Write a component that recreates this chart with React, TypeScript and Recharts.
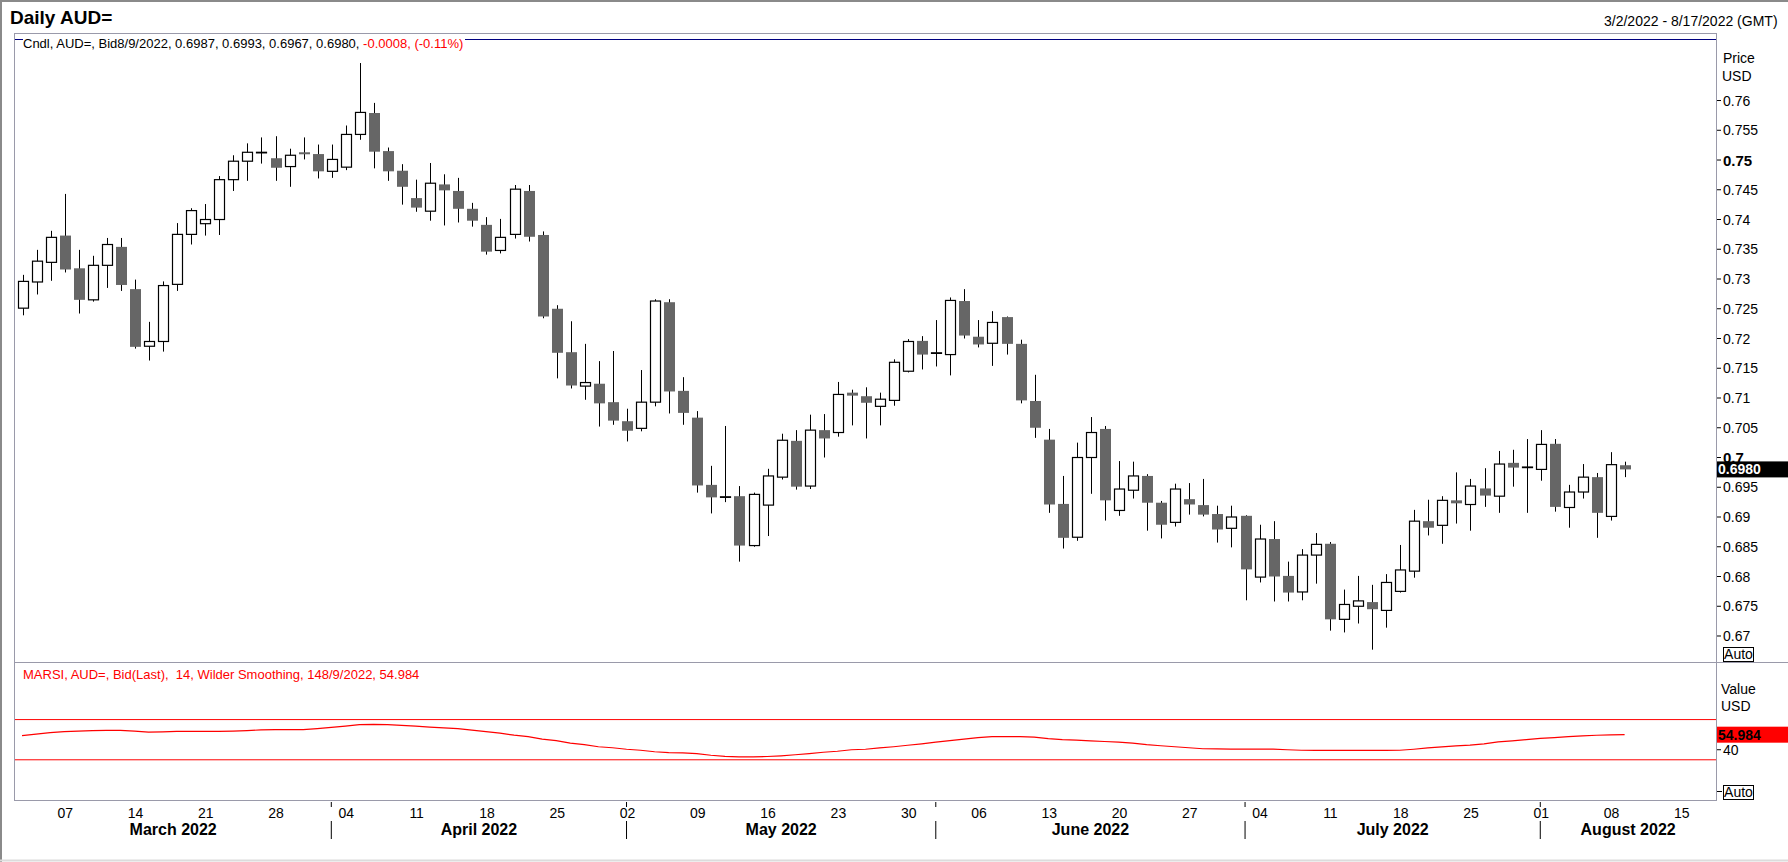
import React from "react";
import { ComposedChart, Bar, Line, XAxis, YAxis, ReferenceLine } from "recharts";

// trading days shown on the axis (Mar 2 - Aug 17 2022, weekdays)
const DATES = [
  "3/2", "3/3", "3/4", "3/7", "3/8", "3/9", "3/10", "3/11", "3/14", "3/15", "3/16", "3/17", "3/18", "3/21", "3/22", "3/23", "3/24", "3/25", "3/28", "3/29", "3/30", "3/31",
  "4/1", "4/4", "4/5", "4/6", "4/7", "4/8", "4/11", "4/12", "4/13", "4/14", "4/15", "4/18", "4/19", "4/20", "4/21", "4/22", "4/25", "4/26", "4/27", "4/28", "4/29",
  "5/2", "5/3", "5/4", "5/5", "5/6", "5/9", "5/10", "5/11", "5/12", "5/13", "5/16", "5/17", "5/18", "5/19", "5/20", "5/23", "5/24", "5/25", "5/26", "5/27", "5/30", "5/31",
  "6/1", "6/2", "6/3", "6/6", "6/7", "6/8", "6/9", "6/10", "6/13", "6/14", "6/15", "6/16", "6/17", "6/20", "6/21", "6/22", "6/23", "6/24", "6/27", "6/28", "6/29", "6/30",
  "7/1", "7/4", "7/5", "7/6", "7/7", "7/8", "7/11", "7/12", "7/13", "7/14", "7/15", "7/18", "7/19", "7/20", "7/21", "7/22", "7/25", "7/26", "7/27", "7/28", "7/29",
  "8/1", "8/2", "8/3", "8/4", "8/5", "8/8", "8/9", "8/10", "8/11", "8/12", "8/15", "8/16", "8/17",
];

const OPEN = [
  0.7251, 0.7295, 0.7328, 0.7373, 0.7318, 0.7265, 0.7323, 0.7354, 0.7283, 0.7187, 0.7195, 0.7291, 0.7375, 0.7393, 0.74, 0.7467, 0.7498, 0.7512, 0.7503, 0.7489, 0.7513, 0.751,
  0.7481, 0.7488, 0.7543, 0.7579, 0.7515, 0.7482, 0.7436, 0.7414, 0.7459, 0.7448, 0.7418, 0.7391, 0.7348, 0.7375, 0.7448, 0.7374, 0.725, 0.7177, 0.712, 0.7124, 0.7093,
  0.7061, 0.7049, 0.7093, 0.7261, 0.7112, 0.7067, 0.6954, 0.6933, 0.6935, 0.6852, 0.692, 0.6967, 0.7028, 0.6952, 0.7046, 0.7042, 0.7109, 0.7103, 0.7086, 0.7096, 0.7145, 0.7196,
  0.7175, 0.7173, 0.7263, 0.7203, 0.7192, 0.7236, 0.7191, 0.7095, 0.703, 0.6922, 0.6866, 0.7, 0.7048, 0.6911, 0.6945, 0.6969, 0.6924, 0.6891, 0.693, 0.692, 0.6905, 0.6881,
  0.6902, 0.6799, 0.6863, 0.6801, 0.6774, 0.6836, 0.6855, 0.6728, 0.675, 0.6757, 0.6743, 0.6775, 0.6809, 0.6893, 0.6886, 0.6928, 0.6921, 0.6948, 0.6935, 0.6991, 0.6983,
  0.698, 0.7023, 0.6916, 0.6942, 0.6967, 0.6901, 0.6987,
];
const HIGH = [
  0.7307, 0.7349, 0.7381, 0.7443, 0.7349, 0.7339, 0.7369, 0.7369, 0.7299, 0.7228, 0.7296, 0.7394, 0.7419, 0.7426, 0.7473, 0.7508, 0.7528, 0.7538, 0.754, 0.7519, 0.7538, 0.7526,
  0.7526, 0.7558, 0.7663, 0.7596, 0.7521, 0.7493, 0.7467, 0.7495, 0.7476, 0.747, 0.7428, 0.7404, 0.7401, 0.7458, 0.7458, 0.738, 0.7256, 0.7229, 0.7191, 0.7162, 0.7179,
  0.7082, 0.7147, 0.7266, 0.7266, 0.7135, 0.7078, 0.6986, 0.7053, 0.6952, 0.6941, 0.6981, 0.704, 0.7046, 0.7072, 0.7073, 0.7127, 0.7114, 0.7118, 0.7109, 0.7165, 0.7199, 0.7204,
  0.7231, 0.7269, 0.7283, 0.7231, 0.7246, 0.7237, 0.7198, 0.7139, 0.7048, 0.6969, 0.7025, 0.7068, 0.7053, 0.6994, 0.6993, 0.6972, 0.6927, 0.6956, 0.6957, 0.6964, 0.6919, 0.6919,
  0.6903, 0.6887, 0.6893, 0.6825, 0.6846, 0.6873, 0.6858, 0.6778, 0.6801, 0.6786, 0.6804, 0.6853, 0.6912, 0.6929, 0.6935, 0.6975, 0.6964, 0.6982, 0.7011, 0.7013, 0.7031,
  0.7046, 0.7031, 0.6954, 0.6989, 0.6974, 0.7009, 0.6993,
];
const LOW = [
  0.7239, 0.7274, 0.7297, 0.7311, 0.7242, 0.7262, 0.7285, 0.728, 0.7183, 0.7163, 0.7178, 0.728, 0.7358, 0.7373, 0.7374, 0.7448, 0.7465, 0.7494, 0.7465, 0.7455, 0.7501, 0.7469,
  0.747, 0.7483, 0.7534, 0.7486, 0.7465, 0.7425, 0.7413, 0.7398, 0.739, 0.7395, 0.7388, 0.7341, 0.7343, 0.7368, 0.7363, 0.7234, 0.7133, 0.7116, 0.7097, 0.7052, 0.7055,
  0.7027, 0.7044, 0.7086, 0.7074, 0.7055, 0.6941, 0.6906, 0.6925, 0.6825, 0.685, 0.6868, 0.6963, 0.6946, 0.6947, 0.7, 0.7035, 0.7054, 0.7032, 0.7054, 0.7087, 0.7143, 0.7148,
  0.7153, 0.7138, 0.72, 0.7185, 0.7154, 0.7173, 0.7091, 0.7033, 0.6907, 0.6847, 0.686, 0.6939, 0.6894, 0.6902, 0.6931, 0.6877, 0.6864, 0.6884, 0.6904, 0.6901, 0.6857, 0.6849,
  0.676, 0.679, 0.6758, 0.6758, 0.676, 0.6788, 0.6709, 0.6706, 0.6721, 0.6677, 0.6714, 0.6773, 0.6798, 0.6869, 0.6855, 0.6889, 0.6877, 0.6917, 0.6907, 0.6951, 0.6907,
  0.6961, 0.6909, 0.6882, 0.6931, 0.6865, 0.6894, 0.6967,
];
const CLOSE = [
  0.7296, 0.733, 0.737, 0.7316, 0.7265, 0.7323, 0.7358, 0.729, 0.7186, 0.7195, 0.7289, 0.7375, 0.7415, 0.74, 0.7467, 0.7498, 0.7513, 0.7513, 0.7487, 0.7508, 0.751, 0.7481,
  0.7501, 0.7543, 0.758, 0.7514, 0.7481, 0.7455, 0.742, 0.7461, 0.7449, 0.7418, 0.7398, 0.7346, 0.737, 0.7451, 0.7371, 0.7237, 0.7176, 0.7121, 0.7126, 0.7091, 0.7062,
  0.7045, 0.7093, 0.7263, 0.7111, 0.7075, 0.6953, 0.6933, 0.6934, 0.6852, 0.6938, 0.6969, 0.7029, 0.6951, 0.7046, 0.7032, 0.7106, 0.7104, 0.7092, 0.7098, 0.716, 0.7195, 0.7173,
  0.7176, 0.7264, 0.7205, 0.719, 0.7227, 0.7191, 0.7096, 0.705, 0.6921, 0.6865, 0.7, 0.7042, 0.6928, 0.6947, 0.6969, 0.6924, 0.6887, 0.6947, 0.6921, 0.6904, 0.6879, 0.69,
  0.6812, 0.6863, 0.68, 0.6773, 0.6836, 0.6854, 0.6728, 0.6753, 0.6759, 0.6745, 0.679, 0.6811, 0.6893, 0.6882, 0.6928, 0.6923, 0.6952, 0.6936, 0.6989, 0.6983, 0.6984,
  0.7022, 0.6917, 0.6942, 0.6967, 0.6907, 0.6988, 0.698,
];

// MARSI(14, Wilder)
const MARSI = [
  54, 55.5, 57, 58, 58.5, 59, 59.3, 59.3, 58.5, 57.5, 57.8, 58.3, 58.3, 58.3, 58.3, 58.5, 59, 59.8, 60, 60, 60, 61,
  62.2, 63.5, 65, 65.3, 65, 64.2, 63.5, 62.5, 61.8, 61, 59.5, 58, 56.5, 54.5, 53, 50.5, 49, 46.5, 45, 43, 42,
  40.5, 39.5, 38, 37.2, 36.8, 36.2, 34.5, 33.5, 33, 33, 33.3, 34, 35, 36.2, 37.5, 38.5, 40, 40.5, 41.8, 43, 44.5, 45.9,
  47.5, 49, 50.5, 52, 53, 53, 53, 52.5, 51, 50, 49.5, 48.8, 48.2, 47.5, 46.5, 45, 44, 43, 42, 41, 40.8, 40.6,
  40.6, 40.6, 40.6, 40, 39.5, 39.3, 39.3, 39.3, 39.3, 39.3, 39.3, 39.5, 40.5, 41.8, 42.8, 43.8, 44.6, 45.8, 47.8, 48.8, 50,
  51.3, 52, 53, 53.8, 54.4, 54.7, 54.984,
];

const PRICE_TICKS = [
  0.67, 0.675, 0.68, 0.685, 0.69, 0.695, 0.7, 0.705, 0.71, 0.715, 0.72, 0.725, 0.73, 0.735, 0.74, 0.745, 0.75, 0.755, 0.76,
];
const RSI_TICKS = [40];
const RSI_BANDS = [70, 30];
const DAY_TICKS = [
  "3/7", "3/14", "3/21", "3/28", "4/4", "4/11", "4/18", "4/25", "5/2", "5/9", "5/16", "5/23", "5/30",
  "6/6", "6/13", "6/20", "6/27", "7/4", "7/11", "7/18", "7/25", "8/1", "8/8", "8/15",
];
const MONTH_STARTS = ["3/2", "4/1", "5/2", "6/1", "7/1", "8/1"];
const MONTH_LABELS = ["March 2022", "April 2022", "May 2022", "June 2022", "July 2022", "August 2022"];
const LAST_CLOSE = 0.698;
const LAST_RSI = 54.984;

const W = 1788;
const H = 862;
const PLOT_LEFT = 15;
const AXIS_W = 72;
const PLOT_RIGHT = W - AXIS_W;
const BAND = (PLOT_RIGHT - PLOT_LEFT) / DATES.length;
const FONT = '"Liberation Sans", Arial, sans-serif';
const FRAME = "#9a9aaa";

const data = DATES.map((date, i) => {
  const has = i < OPEN.length;
  return {
    date,
    range: has ? [LOW[i], HIGH[i]] : null,
    open: has ? OPEN[i] : null,
    high: has ? HIGH[i] : null,
    low: has ? LOW[i] : null,
    close: has ? CLOSE[i] : null,
    rsi: i < MARSI.length ? MARSI[i] : null,
  };
});

function Candle(props: any) {
  const { x, y, width, height, payload } = props;
  if (!payload || payload.range == null || height == null) return null;
  const { open, high, low, close } = payload;
  const top = Math.min(y, y + height);
  const bottom = Math.max(y, y + height);
  const k = (bottom - top) / (high - low);
  const yO = top + (high - open) * k;
  const yC = top + (high - close) * k;
  const cx = Math.round(x + width / 2) + 0.5;
  const up = close >= open;
  const bTop = Math.min(yO, yC);
  const bH = Math.abs(yC - yO);
  return (
    <g>
      <line x1={cx} x2={cx} y1={top} y2={bottom} stroke="#000" strokeWidth={1} />
      {up ? (
        <rect x={cx - 5} y={bTop} width={10} height={Math.max(bH, 0.5)} fill="#fff" stroke="#000" strokeWidth={1.2} />
      ) : (
        <rect x={cx - 5.5} y={bTop} width={11} height={Math.max(bH, 2)} fill="#666666" />
      )}
    </g>
  );
}

function PriceTick(props: any) {
  const { x, y, payload } = props;
  const v = payload.value as number;
  const bold = Math.abs(v * 20 - Math.round(v * 20)) < 1e-6;
  return (
    <text x={x} y={y} dominantBaseline="central" textAnchor="start" fontFamily={FONT}
      fontSize={bold ? 15 : 14} fontWeight={bold ? 700 : 400} fill="#000">
      {String(parseFloat(v.toFixed(3)))}
    </text>
  );
}

const AXIS_Y = 138; // x axis line inside the lower chart

function DateTick(props: any) {
  const { x, payload } = props;
  const d = payload.value as string;
  const i = DATES.indexOf(d);
  const m = MONTH_STARTS.indexOf(d);
  const parts: React.ReactNode[] = [];
  if (DAY_TICKS.includes(d)) {
    parts.push(
      <text key="d" x={x + 1} y={AXIS_Y + 12.5} textAnchor="middle" dominantBaseline="central"
        fontFamily={FONT} fontSize={14} fill="#000">
        {d.split("/")[1].padStart(2, "0")}
      </text>
    );
  }
  if (m >= 0) {
    const left = m === 0 ? -0.5 : i;
    const right = m + 1 < MONTH_STARTS.length ? DATES.indexOf(MONTH_STARTS[m + 1]) : DATES.length - 0.5;
    const dx = ((left + right) / 2 - i) * BAND;
    if (m > 0) {
      parts.push(<line key="t" x1={x} x2={x} y1={AXIS_Y + 2} y2={AXIS_Y + 7} stroke="#000" strokeWidth={1} />);
      parts.push(<line key="s" x1={x} x2={x} y1={AXIS_Y + 21} y2={AXIS_Y + 39} stroke="#000" strokeWidth={1} />);
    }
    parts.push(
      <text key="m" x={x + dx} y={AXIS_Y + 29} textAnchor="middle" dominantBaseline="central"
        fontFamily={FONT} fontSize={16} fontWeight={700} fill="#000">
        {MONTH_LABELS[m]}
      </text>
    );
  }
  return <g>{parts}</g>;
}

const Txt = ({ left, top, children, style }: any) => (
  <div style={{ position: "absolute", left, top, transform: "translateY(-50%)", lineHeight: 1, whiteSpace: "pre", fontFamily: FONT, ...style }}>
    {children}
  </div>
);

const AutoBox = ({ top }: { top: number }) => (
  <div style={{ position: "absolute", left: 1723, top, width: 29, height: 13, border: "1px solid #000", fontFamily: FONT, fontSize: 14, lineHeight: "13px", textAlign: "center", background: "#fff" }}>
    Auto
  </div>
);

export default function App() {
  return (
    <div style={{ position: "relative", width: W, height: H, background: "#fff", overflow: "hidden" }}>
      <style>{`body{margin:0}`}</style>

      <div style={{ position: "absolute", left: 0, top: 0 }}>
        <ComposedChart width={W} height={663} data={data} margin={{ top: 34, right: 0, bottom: 1, left: PLOT_LEFT }}>
          <XAxis dataKey="date" scale="band" hide />
          <YAxis orientation="right" width={AXIS_W} domain={[0.66563, 0.77118]} allowDataOverflow
            ticks={PRICE_TICKS} interval={0} tickSize={5} tickMargin={2} tickLine={{ stroke: "#000" }}
            axisLine={false} tick={(p: any) => <PriceTick {...p} />} />
          <Bar dataKey="range" barSize={11} isAnimationActive={false} shape={(p: any) => <Candle {...p} />} />
          <ReferenceLine y={LAST_CLOSE} stroke="none" label={(p: any) => {
            const vb = p.viewBox || {};
            const x0 = vb.x + vb.width;
            return (
              <g>
                <rect x={x0 + 1} y={vb.y - 8} width={W - x0} height={16} fill="#000" />
                <text x={x0 + 2} y={vb.y} dominantBaseline="central" fontFamily={FONT} fontSize={14} fontWeight={700} fill="#fff">
                  {LAST_CLOSE.toFixed(4)}
                </text>
              </g>
            );
          }} />
        </ComposedChart>
      </div>

      <div style={{ position: "absolute", left: 0, top: 662 }}>
        <ComposedChart width={W} height={198} data={data} margin={{ top: 0, right: 0, bottom: 0, left: PLOT_LEFT }}>
          <XAxis dataKey="date" scale="band" height={60} interval={0} tickLine={false} axisLine={false}
            tick={(p: any) => <DateTick {...p} />} />
          <YAxis orientation="right" width={AXIS_W} domain={[-10, 127.3]} allowDataOverflow ticks={RSI_TICKS}
            interval={0} tickSize={5} tickMargin={2} tickLine={{ stroke: "#000" }} axisLine={false}
            tick={{ fill: "#000", fontSize: 14, fontFamily: FONT }} />
          {RSI_BANDS.map((b) => (
            <ReferenceLine key={b} y={b} stroke="#ff0000" strokeWidth={1} />
          ))}
          <Line dataKey="rsi" type="linear" stroke="#ff0000" strokeWidth={1.2} dot={false} isAnimationActive={false} />
          <ReferenceLine y={LAST_RSI} stroke="none" label={(p: any) => {
            const vb = p.viewBox || {};
            const x0 = vb.x + vb.width;
            return (
              <g>
                <rect x={x0 + 1} y={vb.y - 8} width={W - x0} height={16} fill="#ff0000" />
                <text x={x0 + 2} y={vb.y} dominantBaseline="central" fontFamily={FONT} fontSize={14} fontWeight={700} fill="#000">
                  {LAST_RSI.toFixed(3)}
                </text>
              </g>
            );
          }} />
        </ComposedChart>
      </div>

      <svg width={W} height={H} style={{ position: "absolute", left: 0, top: 0, pointerEvents: "none" }}>
        <line x1={0} x2={W} y1={1} y2={1} stroke="#8a8a8a" strokeWidth={2} />
        <line x1={1} x2={1} y1={0} y2={H} stroke="#8a8a8a" strokeWidth={2} />
        <line x1={0} x2={W} y1={H - 1.5} y2={H - 1.5} stroke="#dcdcdc" strokeWidth={2} />
        <line x1={14.5} x2={14.5} y1={33.5} y2={800.5} stroke={FRAME} />
        <line x1={14} x2={PLOT_RIGHT + 1} y1={33.5} y2={33.5} stroke={FRAME} />
        <line x1={PLOT_RIGHT + 0.5} x2={PLOT_RIGHT + 0.5} y1={33.5} y2={800.5} stroke={FRAME} />
        <line x1={14} x2={W} y1={662.5} y2={662.5} stroke={FRAME} />
        <line x1={14} x2={PLOT_RIGHT + 1} y1={800.5} y2={800.5} stroke={FRAME} />
        <line x1={15} x2={PLOT_RIGHT} y1={39.5} y2={39.5} stroke="#000080" strokeWidth={1} />
        <line x1={PLOT_RIGHT + 1} x2={PLOT_RIGHT + 6} y1={791.5} y2={791.5} stroke="#000" />
      </svg>

      <Txt left={10} top={17} style={{ fontSize: 19, fontWeight: 700 }}>Daily AUD=</Txt>
      <Txt left={1604} top={21} style={{ fontSize: 14 }}>3/2/2022 - 8/17/2022 (GMT)</Txt>
      <Txt left={23} top={43} style={{ fontSize: 13, background: "#fff", paddingRight: 2 }}>
        Cndl, AUD=, Bid8/9/2022, 0.6987, 0.6993, 0.6967, 0.6980, <span style={{ color: "#ff0000" }}>-0.0008, (-0.11%)</span>
      </Txt>
      <Txt left={1723} top={58} style={{ fontSize: 14 }}>Price</Txt>
      <Txt left={1722} top={76} style={{ fontSize: 14 }}>USD</Txt>
      <AutoBox top={647} />
      <Txt left={23} top={674} style={{ fontSize: 13, color: "#ff0000" }}>
        {"MARSI, AUD=, Bid(Last),  14, Wilder Smoothing, 148/9/2022, 54.984"}
      </Txt>
      <Txt left={1721} top={689} style={{ fontSize: 14 }}>Value</Txt>
      <Txt left={1721} top={706} style={{ fontSize: 14 }}>USD</Txt>
      <AutoBox top={785} />
    </div>
  );
}
